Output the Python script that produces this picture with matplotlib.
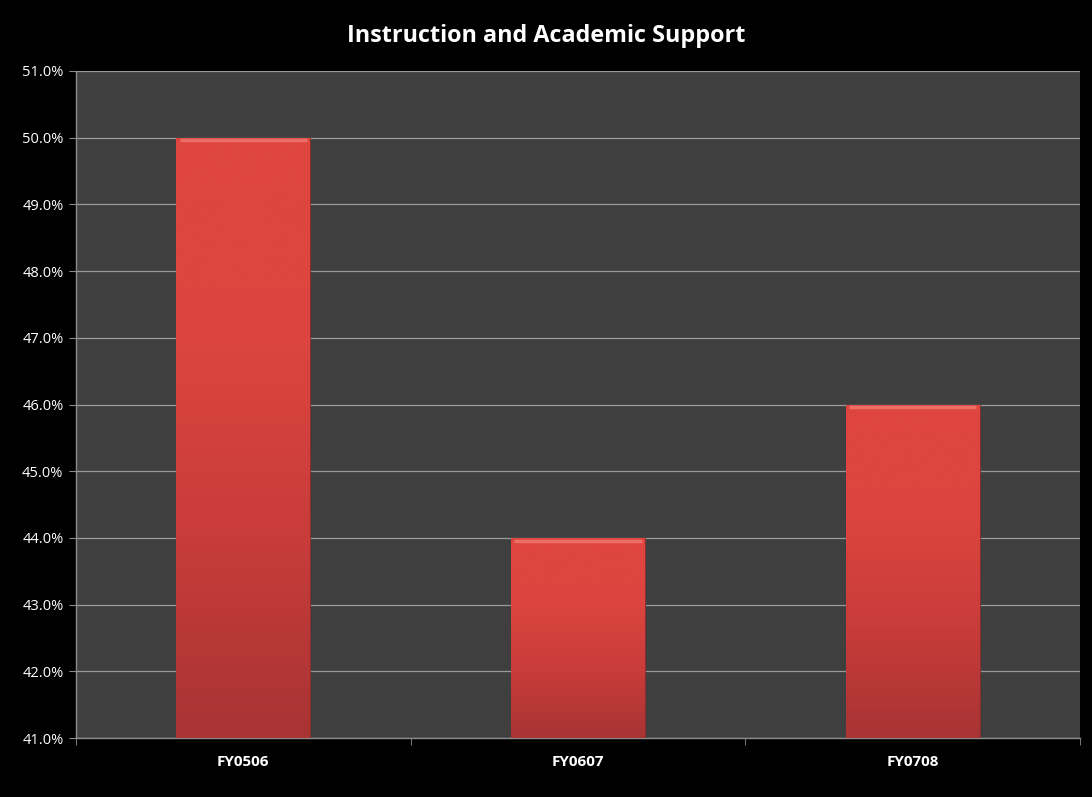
import matplotlib
matplotlib.use("Agg")
import matplotlib.pyplot as plt
import numpy as np
from matplotlib.colors import LinearSegmentedColormap
from matplotlib.ticker import FuncFormatter

categories = ["FY0506", "FY0607", "FY0708"]
values = [50.0, 44.0, 46.0]
y_min, y_max = 41.0, 51.0

plt.rcParams['font.family'] = ['Open Sans', 'DejaVu Sans']

fig = plt.figure(figsize=(10.92, 7.97), dpi=100, facecolor='black')
ax = fig.add_axes([76 / 1092, 1 - 738 / 797, (1080 - 76) / 1092, (738 - 71) / 797])
ax.set_facecolor('#3f3f3f')

x = np.arange(len(categories))
bars = ax.bar(x, values, width=0.40, bottom=0, color='#d04340',
              edgecolor='#8a2a28', linewidth=0.6, zorder=3)

# vertical shading: lighter at top, darker at bottom
grad = LinearSegmentedColormap.from_list('bar', ['#a83434', '#c83c3a', '#dc4540', '#e0453f'])
for b, v in zip(bars, values):
    x0 = b.get_x()
    w = b.get_width()
    img = ax.imshow(np.linspace(0, 1, 256).reshape(-1, 1), cmap=grad, origin='lower',
                    extent=[x0, x0 + w, y_min, v], aspect='auto', zorder=3.5,
                    interpolation='bicubic')
    img.set_clip_path(b)
    # highlight strip on top
    ax.plot([x0 + 0.01, x0 + w - 0.01], [v - 0.04, v - 0.04], color='#f07a72',
            lw=2.5, alpha=0.8, zorder=4, solid_capstyle='butt')

ax.set_xlim(-0.5, len(categories) - 0.5)
ax.set_ylim(y_min, y_max)
ax.set_yticks(np.arange(41, 52, 1.0))
ax.yaxis.set_major_formatter(FuncFormatter(lambda v, p: f"{v:.1f}%"))
ax.grid(axis='y', color='#9a9a9a', linewidth=0.9, zorder=1)
ax.set_axisbelow(True)

ax.set_xticks(x)
ax.set_xticklabels(categories, fontweight='bold')
ax.set_xticks(np.arange(-0.5, len(categories) + 0.5, 1.0), minor=True)
ax.tick_params(axis='x', which='major', length=0, pad=12, colors='white', labelsize=11)
ax.tick_params(axis='x', which='minor', length=5, color='#8c8c8c', direction='out')
ax.tick_params(axis='y', length=5, color='#8c8c8c', direction='out', colors='white',
               labelsize=10.5, pad=4)
ax.tick_params(axis='y', color='#8c8c8c')

for s in ['top', 'right']:
    ax.spines[s].set_visible(False)
for s in ['left', 'bottom']:
    ax.spines[s].set_color('#8c8c8c')
    ax.spines[s].set_linewidth(1.0)

fig.text(0.5, 1 - 36 / 797, "Instruction and Academic Support", color='white',
         fontsize=16.8, fontweight='bold', ha='center', va='center')

fig.savefig("out.png", dpi=100, facecolor='black')
